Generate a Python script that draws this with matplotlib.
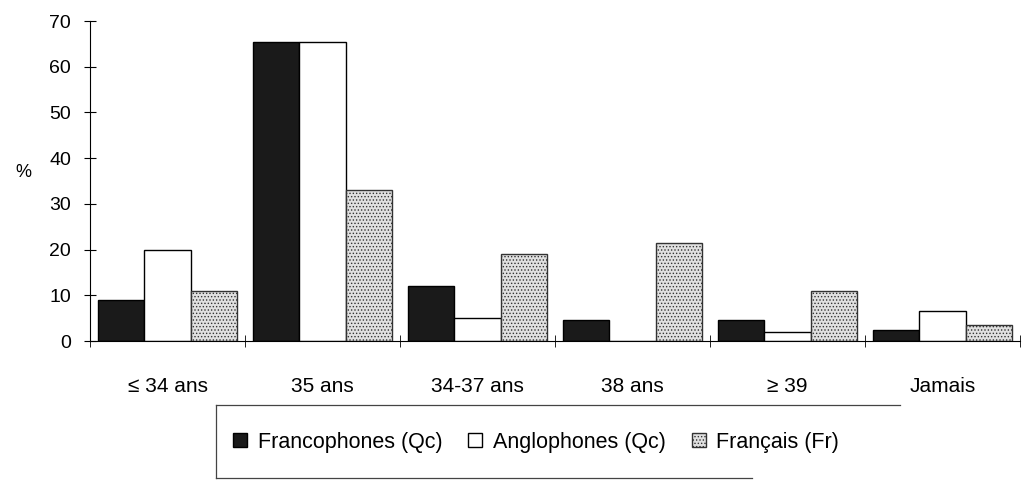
import numpy as np
import matplotlib.pyplot as plt
from matplotlib.ticker import FixedLocator
from matplotlib.lines import Line2D

plt.rcParams['font.family'] = ['Liberation Sans', 'DejaVu Sans']
plt.rcParams['hatch.linewidth'] = 0.6

categories = ['\u2264 34 ans', '35 ans', '34-37 ans', '38 ans', '\u2265 39', 'Jamais']
francophones = [9, 65.5, 12, 4.5, 4.5, 2.5]
anglophones = [20, 65.5, 5, 0, 2, 6.5]
francais = [11, 33, 19, 21.5, 11, 3.5]

series = [
    ('Francophones (Qc)', francophones, dict(facecolor='#1a1a1a', edgecolor='black')),
    ('Anglophones (Qc)', anglophones, dict(facecolor='white', edgecolor='black')),
    ('Fran\u00e7ais (Fr)', francais, dict(facecolor='#e0e0e0', edgecolor='#333333', hatch='.....')),
]

W, H = 1034, 486
fig = plt.figure(figsize=(W / 100, H / 100), dpi=100)
ax = fig.add_axes([90 / W, 1 - 341 / H, 930 / W, 320 / H])

x = np.arange(len(categories)) + 0.5
w = 0.3
for i, (name, vals, style) in enumerate(series):
    ax.bar(x + (i - 1) * w, vals, width=w, label=name, linewidth=1.0, **style)

ax.set_xlim(0, len(categories))
ax.set_ylim(0, 70)
ax.set_yticks(range(0, 71, 10))
ax.tick_params(axis='y', direction='inout', length=9, labelsize=14, pad=9)

# category names centred under groups, short ticks on the group boundaries
ax.xaxis.set_major_locator(FixedLocator(x))
ax.set_xticklabels(categories)
ax.tick_params(axis='x', which='major', length=0, labelsize=15, pad=26)
ax.xaxis.set_minor_locator(FixedLocator(np.arange(0, len(categories) + 1)))
ax.tick_params(axis='x', which='minor', direction='inout', length=9)

for s in ['top', 'right']:
    ax.spines[s].set_visible(False)
ax.spines['bottom'].set_position(('data', 0))

ax.set_ylabel('%', rotation=0, fontsize=13)
ax.yaxis.set_label_coords(-0.072, 0.50)

# legend frame: left, top and (partly faded) bottom rules as in the scan
def fig_line(xs, ys):
    fig.add_artist(Line2D([v / W for v in xs], [1 - v / H for v in ys],
                          transform=fig.transFigure, color='#444444', linewidth=0.9))

fig_line([216, 216], [405, 478])
fig_line([216, 900], [405, 405])
fig_line([216, 752], [478, 478])

leg = fig.legend(loc='center left', bbox_to_anchor=(233 / W, 1 - 442 / H),
                 ncol=3, fontsize=15.5, frameon=False,
                 handlelength=0.65, handleheight=0.65, handletextpad=0.5,
                 columnspacing=1.2, borderaxespad=0, borderpad=0)

fig.savefig('out.png', dpi=100)
